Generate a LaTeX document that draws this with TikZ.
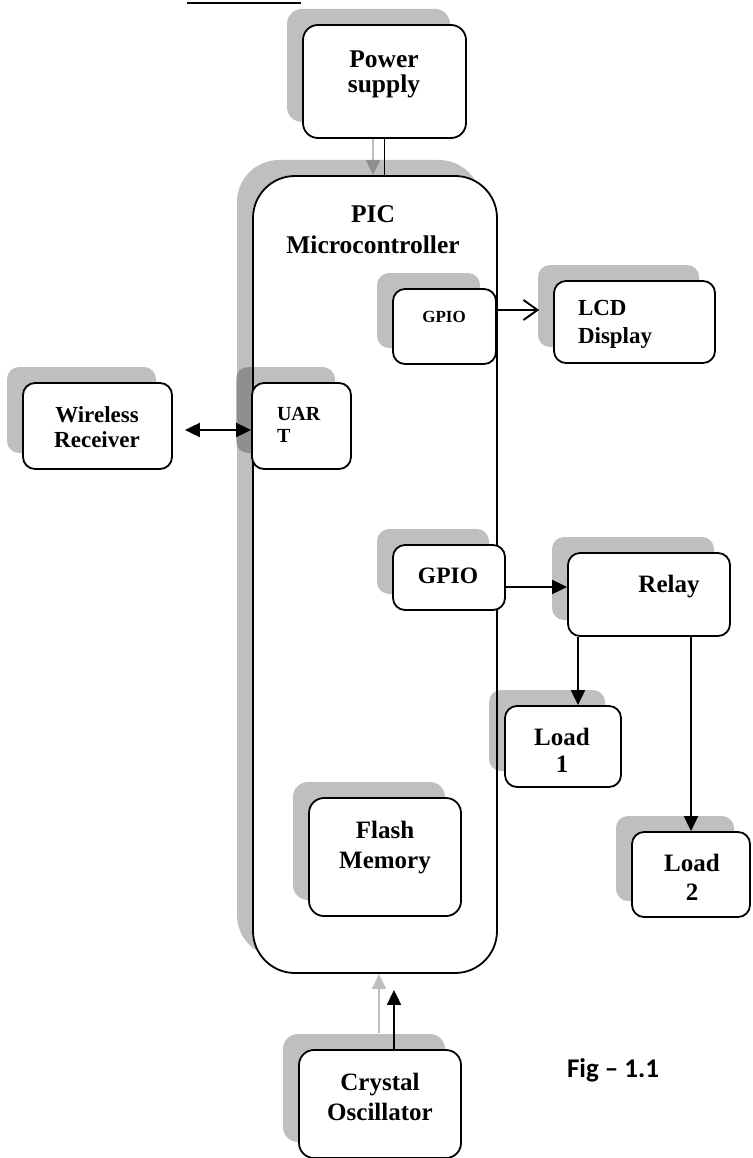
\documentclass[tikz,border=0pt]{standalone}
\usepackage{fontspec}
\setmainfont{Liberation Serif}
\newfontfamily\figfont{Carlito}
\usetikzlibrary{arrows.meta,shadows,calc}
\newcommand{\lbl}[1]{\fontsize{#1pt}{#1pt}\selectfont\bfseries}
\tikzset{
  box/.style={draw=black, line width=1.8pt, fill=white, rounded corners=12pt, inner sep=0pt,
    general shadow={shadow xshift=-16pt, shadow yshift=16pt, fill=black, opacity=0.25}},
  txt/.style={anchor=base, inner sep=0pt, outer sep=0pt},
  txtl/.style={anchor=base west, inner sep=0pt, outer sep=0pt},
  conn/.style={line width=1.9pt, draw=black},
  tri/.style={conn, -{Triangle[length=15pt,width=14pt]}},
  dbltri/.style={conn, {Triangle[length=15pt,width=14pt]}-{Triangle[length=15pt,width=14pt]}},
  grayarrow/.style={conn, -{Triangle[length=15pt,width=14pt]}},
  openarrow/.style={conn, -{Straight Barb[length=14pt,width=20pt,line width=1.9pt]}},
  shadowgroup/.style={transparency group, opacity=0.25},
}
\begin{document}
\begin{tikzpicture}[x=1pt,y=-1pt]
\useasboundingbox (0,0) rectangle (752,1158);

% cut-off heading underline
\draw[line width=2pt] (187,3) -- (301,3);

% boxes
\node[box, minimum width=163pt, minimum height=113pt, rounded corners=15pt] (power) at (384.5,81.5) {};
\node[box, minimum width=244pt, minimum height=797pt, rounded corners=42pt] (pic) at (375,574.5) {};
\node[box, minimum width=103pt, minimum height=75pt] (gpioA) at (444.5,326.5) {};
\node[box, minimum width=161pt, minimum height=82pt] (lcd) at (634.5,322) {};
\node[box, minimum width=99pt, minimum height=86pt] (uart) at (301.5,426) {};
\node[box, minimum width=149pt, minimum height=86pt] (wireless) at (97.5,426) {};
\node[box, minimum width=112pt, minimum height=65pt] (gpioB) at (449,577.5) {};
\node[box, minimum width=162pt, minimum height=83pt] (relay) at (649,594.5) {};
\node[box, minimum width=116pt, minimum height=81pt] (load1) at (563,746.5) {};
\node[box, minimum width=118pt, minimum height=85pt] (load2) at (691,874.5) {};
\node[box, minimum width=152pt, minimum height=118pt, rounded corners=15pt] (flash) at (385,857) {};
\node[box, minimum width=162pt, minimum height=108pt, rounded corners=15pt] (crystal) at (380,1104) {};

% connectors
\begin{scope}[shadowgroup]
\draw[grayarrow] ($(power.south)+(-11.5,0)$) -- ($(power.south |- pic.north)+(-11.5,0)$);
\end{scope}
\draw[conn] (power.south) -- (power.south |- pic.north);
\draw[dbltri] ($(wireless.east)+(12,4)$) -- ($(uart.west)+(0,4)$);
\draw[openarrow] ($(gpioA.east)+(0,-16.5)$) -- ($(gpioA.east -| lcd.west)+(-14,-16.5)$);
\draw[tri] ($(gpioB.east)+(0,9.5)$) -- ($(gpioB.east -| relay.west)+(0,9.5)$);
\draw[tri] ($(relay.south)+(-71,0)$) -- ($(relay.south |- load1.north)+(-71,0)$);
\draw[tri] (relay.south -| load2.north) -- (load2.north);
\begin{scope}[shadowgroup]
\draw[grayarrow] ($(crystal.north)+(-1,-16)$) -- ($(crystal.north |- pic.south)+(-1,0)$);
\end{scope}
\draw[tri] ($(crystal.north)+(14,0)$) -- ($(crystal.north |- pic.south)+(14,16)$);

% texts
\node[txt, font=\lbl{25.5}] (tPow1) at (384,68) {Power};
\node[txt, font=\lbl{25.5}] (tPow2) at (384,93) {supply};
\node[txt, font=\lbl{25.5}] (tPic1) at (373,223) {PIC};
\node[txt, font=\lbl{25.5}] (tPic2) at (373,253) {Microcontroller};
\node[txt, font=\lbl{17}] (tGpioA) at (444,322) {GPIO};
\node[txtl, font=\lbl{23}] (tLcd1) at (578,315) {LCD};
\node[txtl, font=\lbl{23}] (tLcd2) at (578,343) {Display};
\node[txtl, font=\lbl{20}] (tUart1) at (277,420) {UAR};
\node[txtl, font=\lbl{20}] (tUart2) at (277,442) {T};
\node[txt, font=\lbl{23}] (tWir1) at (97,422) {Wireless};
\node[txt, font=\lbl{23}] (tWir2) at (97,447) {Receiver};
\node[txt, font=\lbl{23.5}] (tGpioB) at (448,583) {GPIO};
\node[txt, font=\lbl{25}] (tRelay) at (669,592) {Relay};
\node[txt, font=\lbl{25}] (tL1a) at (562,745) {Load};
\node[txt, font=\lbl{25}] (tL1b) at (562,772) {1};
\node[txt, font=\lbl{25}] (tL2a) at (692,871) {Load};
\node[txt, font=\lbl{25}] (tL2b) at (692,900) {2};
\node[txt, font=\lbl{25}] (tFl1) at (385,838) {Flash};
\node[txt, font=\lbl{25}] (tFl2) at (385,868) {Memory};
\node[txt, font=\lbl{25}] (tCr1) at (380,1090) {Crystal};
\node[txt, font=\lbl{25}] (tCr2) at (380,1120) {Oscillator};
\node[txtl, font=\figfont\fontsize{27pt}{27pt}\selectfont\bfseries] (tFig) at (567,1077) {Fig – 1.1};
\end{tikzpicture}
\end{document}
